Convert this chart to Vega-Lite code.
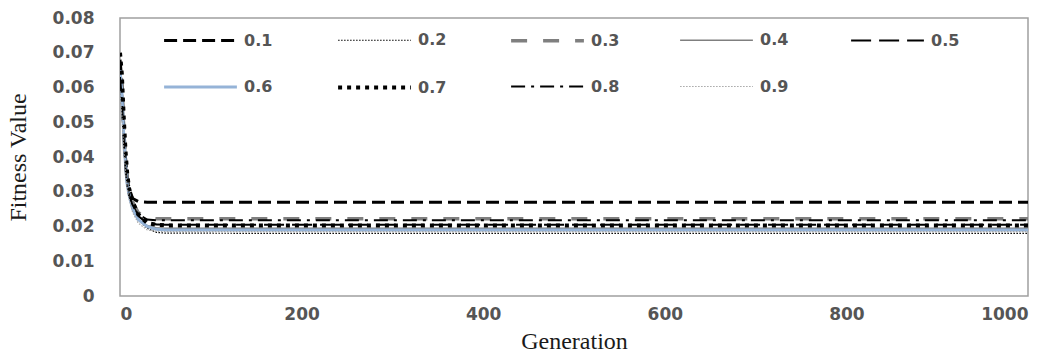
{
  "$schema": "https://vega.github.io/schema/vega-lite/v6.json",
  "autosize": {"type": "none"},
  "padding": {"left": 120, "top": 18, "right": 28, "bottom": 62},
  "width": 908,
  "height": 278,
  "background": "white",
  "config": {
    "view": {"stroke": "#a0a0a0", "strokeWidth": 1.5},
    "axis": {"grid": false, "ticks": false, "domain": false, "labelFont": "DejaVu Sans", "labelFontSize": 17, "labelFontWeight": "bold", "labelColor": "#555555", "titleFont": "Liberation Serif", "titleFontSize": 24, "titleFontWeight": "normal", "titleColor": "#1a1a1a"}
  },
  "data": {"values": [
    {"r":"0.1","g":0,"v":0.068},{"r":"0.1","g":2,"v":0.062},{"r":"0.1","g":4,"v":0.050},{"r":"0.1","g":6,"v":0.040},{"r":"0.1","g":8,"v":0.034},{"r":"0.1","g":10,"v":0.031},{"r":"0.1","g":14,"v":0.028},{"r":"0.1","g":20,"v":0.0272},{"r":"0.1","g":30,"v":0.027},{"r":"0.1","g":40,"v":0.027},{"r":"0.1","g":50,"v":0.027},{"r":"0.1","g":200,"v":0.027},{"r":"0.1","g":400,"v":0.027},{"r":"0.1","g":600,"v":0.027},{"r":"0.1","g":800,"v":0.027},{"r":"0.1","g":1000,"v":0.027},
    {"r":"0.2","g":0,"v":0.060},{"r":"0.2","g":2,"v":0.054},{"r":"0.2","g":4,"v":0.045},{"r":"0.2","g":6,"v":0.037},{"r":"0.2","g":8,"v":0.032},{"r":"0.2","g":10,"v":0.029},{"r":"0.2","g":14,"v":0.025},{"r":"0.2","g":20,"v":0.022},{"r":"0.2","g":30,"v":0.0195},{"r":"0.2","g":40,"v":0.0183},{"r":"0.2","g":50,"v":0.0181},{"r":"0.2","g":200,"v":0.018},{"r":"0.2","g":400,"v":0.018},{"r":"0.2","g":600,"v":0.018},{"r":"0.2","g":800,"v":0.018},{"r":"0.2","g":1000,"v":0.018},
    {"r":"0.3","g":0,"v":0.064},{"r":"0.3","g":2,"v":0.058},{"r":"0.3","g":4,"v":0.047},{"r":"0.3","g":6,"v":0.038},{"r":"0.3","g":8,"v":0.033},{"r":"0.3","g":10,"v":0.030},{"r":"0.3","g":14,"v":0.027},{"r":"0.3","g":20,"v":0.024},{"r":"0.3","g":30,"v":0.0225},{"r":"0.3","g":40,"v":0.0222},{"r":"0.3","g":50,"v":0.0222},{"r":"0.3","g":200,"v":0.0222},{"r":"0.3","g":400,"v":0.0222},{"r":"0.3","g":600,"v":0.0222},{"r":"0.3","g":800,"v":0.0222},{"r":"0.3","g":1000,"v":0.0222},
    {"r":"0.4","g":0,"v":0.062},{"r":"0.4","g":2,"v":0.056},{"r":"0.4","g":4,"v":0.046},{"r":"0.4","g":6,"v":0.037},{"r":"0.4","g":8,"v":0.032},{"r":"0.4","g":10,"v":0.029},{"r":"0.4","g":14,"v":0.025},{"r":"0.4","g":20,"v":0.022},{"r":"0.4","g":30,"v":0.0203},{"r":"0.4","g":40,"v":0.0196},{"r":"0.4","g":50,"v":0.0195},{"r":"0.4","g":200,"v":0.0195},{"r":"0.4","g":400,"v":0.0195},{"r":"0.4","g":600,"v":0.0195},{"r":"0.4","g":800,"v":0.0195},{"r":"0.4","g":1000,"v":0.0195},
    {"r":"0.5","g":0,"v":0.066},{"r":"0.5","g":2,"v":0.060},{"r":"0.5","g":4,"v":0.048},{"r":"0.5","g":6,"v":0.039},{"r":"0.5","g":8,"v":0.033},{"r":"0.5","g":10,"v":0.030},{"r":"0.5","g":14,"v":0.026},{"r":"0.5","g":20,"v":0.023},{"r":"0.5","g":30,"v":0.021},{"r":"0.5","g":40,"v":0.0206},{"r":"0.5","g":50,"v":0.0205},{"r":"0.5","g":200,"v":0.0205},{"r":"0.5","g":400,"v":0.0205},{"r":"0.5","g":600,"v":0.0205},{"r":"0.5","g":800,"v":0.0205},{"r":"0.5","g":1000,"v":0.0205},
    {"r":"0.6","g":0,"v":0.065},{"r":"0.6","g":2,"v":0.059},{"r":"0.6","g":4,"v":0.047},{"r":"0.6","g":6,"v":0.038},{"r":"0.6","g":8,"v":0.032},{"r":"0.6","g":10,"v":0.029},{"r":"0.6","g":14,"v":0.025},{"r":"0.6","g":20,"v":0.022},{"r":"0.6","g":30,"v":0.020},{"r":"0.6","g":40,"v":0.0192},{"r":"0.6","g":50,"v":0.019},{"r":"0.6","g":200,"v":0.019},{"r":"0.6","g":400,"v":0.019},{"r":"0.6","g":600,"v":0.019},{"r":"0.6","g":800,"v":0.019},{"r":"0.6","g":1000,"v":0.019},
    {"r":"0.7","g":0,"v":0.070},{"r":"0.7","g":2,"v":0.064},{"r":"0.7","g":4,"v":0.052},{"r":"0.7","g":6,"v":0.042},{"r":"0.7","g":8,"v":0.035},{"r":"0.7","g":10,"v":0.031},{"r":"0.7","g":14,"v":0.027},{"r":"0.7","g":20,"v":0.0235},{"r":"0.7","g":30,"v":0.021},{"r":"0.7","g":40,"v":0.0205},{"r":"0.7","g":50,"v":0.0203},{"r":"0.7","g":200,"v":0.0203},{"r":"0.7","g":400,"v":0.0203},{"r":"0.7","g":600,"v":0.0203},{"r":"0.7","g":800,"v":0.0203},{"r":"0.7","g":1000,"v":0.0203},
    {"r":"0.8","g":0,"v":0.063},{"r":"0.8","g":2,"v":0.057},{"r":"0.8","g":4,"v":0.046},{"r":"0.8","g":6,"v":0.037},{"r":"0.8","g":8,"v":0.032},{"r":"0.8","g":10,"v":0.029},{"r":"0.8","g":14,"v":0.026},{"r":"0.8","g":20,"v":0.0235},{"r":"0.8","g":30,"v":0.022},{"r":"0.8","g":40,"v":0.0218},{"r":"0.8","g":50,"v":0.0218},{"r":"0.8","g":200,"v":0.0218},{"r":"0.8","g":400,"v":0.0218},{"r":"0.8","g":600,"v":0.0218},{"r":"0.8","g":800,"v":0.0218},{"r":"0.8","g":1000,"v":0.0218},
    {"r":"0.9","g":0,"v":0.058},{"r":"0.9","g":2,"v":0.052},{"r":"0.9","g":4,"v":0.043},{"r":"0.9","g":6,"v":0.036},{"r":"0.9","g":8,"v":0.031},{"r":"0.9","g":10,"v":0.028},{"r":"0.9","g":14,"v":0.024},{"r":"0.9","g":20,"v":0.021},{"r":"0.9","g":30,"v":0.019},{"r":"0.9","g":40,"v":0.0186},{"r":"0.9","g":50,"v":0.0185},{"r":"0.9","g":200,"v":0.0185},{"r":"0.9","g":400,"v":0.0185},{"r":"0.9","g":600,"v":0.0185},{"r":"0.9","g":800,"v":0.0185},{"r":"0.9","g":1000,"v":0.0185}
  ]},
  "mark": {"type": "line", "clip": true},
  "encoding": {
    "x": {"field": "g", "type": "quantitative", "title": "Generation", "scale": {"domain": [0, 1000], "nice": false}, "axis": {"values": [0, 200, 400, 600, 800, 1000], "format": "d", "labelPadding": 10, "titlePadding": 7}},
    "y": {"field": "v", "type": "quantitative", "title": "Fitness Value", "scale": {"domain": [0, 0.08], "nice": false}, "axis": {"values": [0, 0.01, 0.02, 0.03, 0.04, 0.05, 0.06, 0.07, 0.08], "labelExpr": "datum.value == 0 ? '0' : format(datum.value, '.2f')", "labelPadding": 26, "titlePadding": 22}},
    "color": {"field": "r", "type": "nominal", "title": null,
      "scale": {"domain": ["0.1","0.2","0.3","0.4","0.5","0.6","0.7","0.8","0.9"], "range": ["#000000","#000000","#7f7f7f","#7f7f7f","#000000","#95b3d7","#000000","#000000","#a6a6a6"]},
      "legend": {"orient": "none", "legendX": 42, "legendY": -16, "direction": "horizontal", "columns": 5, "symbolType": "stroke", "symbolSize": 5300, "labelFont": "DejaVu Sans", "labelFontSize": 16, "labelFontWeight": "bold", "labelColor": "#555555", "labelOffset": 5, "columnPadding": 57, "rowPadding": -9, "padding": 0}},
    "strokeDash": {"field": "r", "type": "nominal", "title": null,
      "scale": {"domain": ["0.1","0.2","0.3","0.4","0.5","0.6","0.7","0.8","0.9"], "range": [[13,6],[1.5,1.5],[16,16],[1,0],[20,8],[1,0],[4,5],[14,6,3,6],[1.5,1.5]]}},
    "strokeWidth": {"field": "r", "type": "nominal", "title": null,
      "scale": {"type": "ordinal", "domain": ["0.1","0.2","0.3","0.4","0.5","0.6","0.7","0.8","0.9"], "range": [3,1.2,3.5,1.5,2.2,3,4,2,1.2]}},
    "order": {"field": "r"}
  }
}
